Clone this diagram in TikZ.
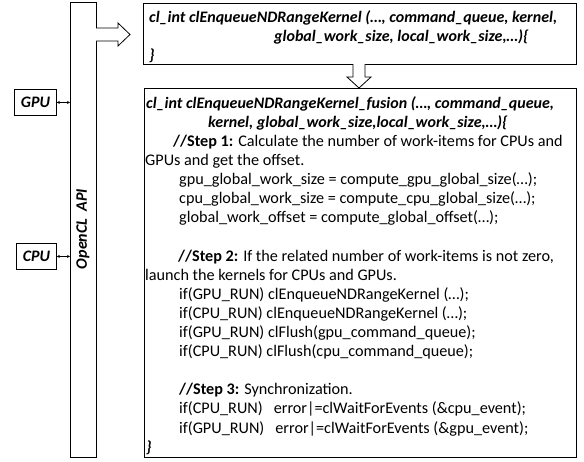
\documentclass[tikz,border=0pt]{standalone}
\usepackage{fontspec}
\setmainfont{Carlito}
\usetikzlibrary{arrows.meta}
\tikzset{
  box/.style={draw, line width=0.8pt, inner sep=0pt, anchor=north west},
  code/.style={anchor=base west, inner sep=0pt, font=\fontsize{16.2}{19}\selectfont},
  head/.style={code, font=\fontsize{16}{19}\selectfont\bfseries\itshape},
  hollow/.style={draw, line width=0.8pt, fill=white},
  dbl/.style={{Stealth[length=3pt,width=3pt]}-{Stealth[length=3pt,width=3pt]}, line width=0.6pt}
}
\begin{document}
\begin{tikzpicture}[x=1pt,y=-1pt]
\useasboundingbox (0,0) rectangle (584,461);
% API bar
\node[box, minimum width=26pt, minimum height=455pt] (api) at (70,2) {};
\node[rotate=90, font=\fontsize{16}{19}\selectfont\bfseries\itshape, inner sep=0pt] (apilabel) at (83,229) {OpenCL\ \ API};
% GPU / CPU
\node[box, minimum width=42pt, minimum height=26pt] (gpu) at (14,89) {};
\node[font=\fontsize{16}{19}\selectfont\bfseries\itshape, inner sep=0pt] (gputxt) at (gpu.center) {GPU};
\node[box, minimum width=40pt, minimum height=26pt] (cpu) at (16,243) {};
\node[font=\fontsize{16}{19}\selectfont\bfseries\itshape, inner sep=0pt] (cputxt) at (cpu.center) {CPU};
\draw[dbl] (gpu.east) -- (gpu.east -| api.west);
\draw[dbl] (cpu.east) -- (cpu.east -| api.west);
% top box
\node[box, minimum width=433pt, minimum height=61pt] (top) at (143,3) {};
\node[head] (t1) at (149,22) {cl\_int clEnqueueNDRangeKernel (…, command\_queue, kernel,};
\node[head] (t2) at (274,41) {global\_work\_size, local\_work\_size,…)\{};
\node[head] (t3) at (149,60) {\}};
% bottom box
\node[box, minimum width=432pt, minimum height=369pt] (bot) at (144,88) {};
\node[head] (b1) at (146,108) {cl\_int clEnqueueNDRangeKernel\_fusion (…, command\_queue,};
\node[head] (b2) at (208,127) {kernel, global\_work\_size,local\_work\_size,…)\{};
\node[code] (b3) at (173,146) {\textbf{//Step 1:} Calculate the number of work-items for CPUs and};
\node[code] (b4) at (145,165) {GPUs and get the offset.};
\node[code] (b5) at (179,184) {gpu\_global\_work\_size = compute\_gpu\_global\_size(…);};
\node[code] (b6) at (179,203) {cpu\_global\_work\_size = compute\_cpu\_global\_size(…);};
\node[code] (b7) at (179,222) {global\_work\_offset = compute\_global\_offset(…);};
\node[code] (b8) at (178,261) {\textbf{//Step 2:} If the related number of work-items is not zero,};
\node[code] (b9) at (145,280) {launch the kernels for CPUs and GPUs.};
\node[code] (b10) at (179,299) {if(GPU\_RUN) clEnqueueNDRangeKernel (…);};
\node[code] (b11) at (179,318) {if(CPU\_RUN) clEnqueueNDRangeKernel (…);};
\node[code] (b12) at (179,337) {if(GPU\_RUN) clFlush(gpu\_command\_queue);};
\node[code] (b13) at (179,356) {if(CPU\_RUN) clFlush(cpu\_command\_queue);};
\node[code] (b14) at (179,394) {\textbf{//Step 3:} Synchronization.};
\node[code] (b15) at (179,413) {if(CPU\_RUN)\ \ \ error\textbar=clWaitForEvents (\&cpu\_event);};
\node[code] (b16) at (179,433) {if(GPU\_RUN)\ \ \ error\textbar=clWaitForEvents (\&gpu\_event);};
\node[head] (b17) at (146,452) {\}};
% hollow arrows
\draw[hollow] (96,28) -- (118,28) -- (118,23) -- (130,34.5) -- (118,46) -- (118,41) -- (96,41);
\draw[hollow] (353,64) -- (353,77) -- (347,77) -- (359,88) -- (371,77) -- (365,77) -- (365,64);
\end{tikzpicture}
\end{document}
